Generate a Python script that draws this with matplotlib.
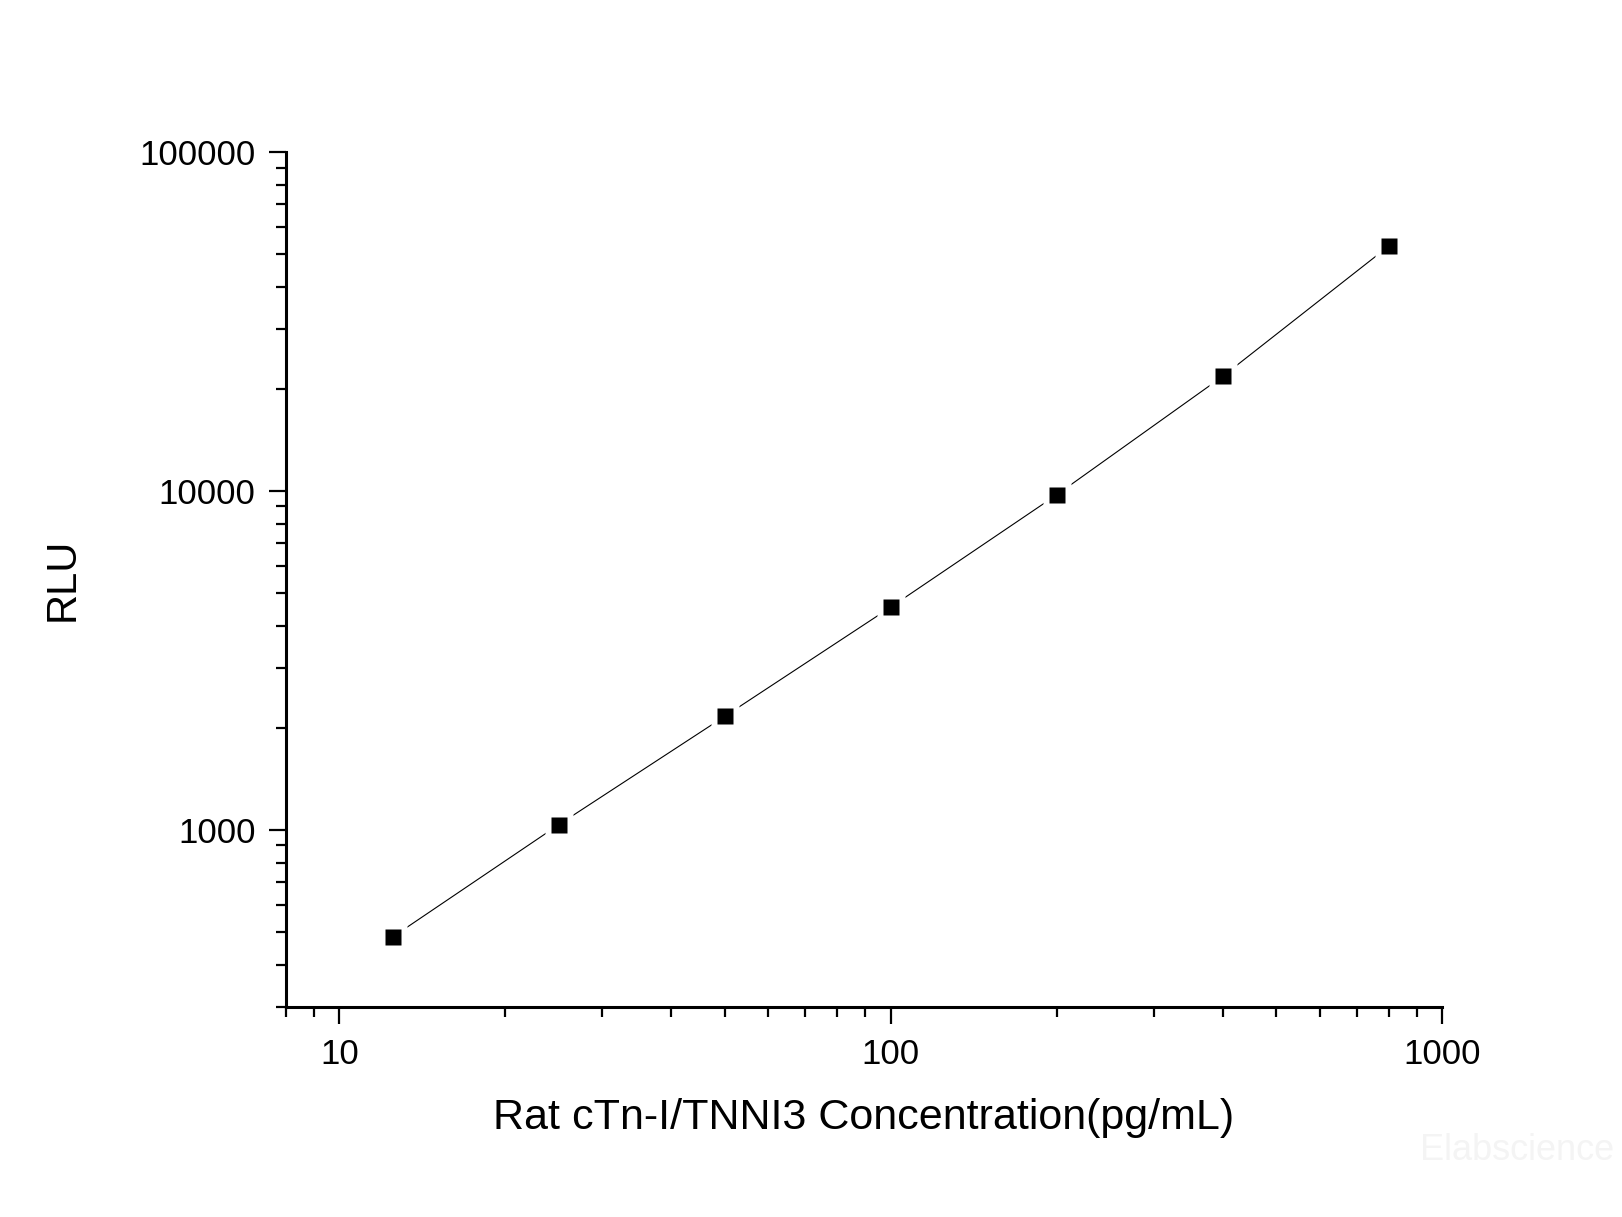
import matplotlib
matplotlib.use("Agg")
import matplotlib.pyplot as plt
from matplotlib.ticker import FixedLocator, FuncFormatter, LogLocator, NullFormatter

plt.rcParams['font.family'] = ['Liberation Sans', 'DejaVu Sans']

# standard curve values
conc = [12.5, 25, 50, 100, 200, 400, 800]
rlu = [483, 1035, 2161, 4537, 9732, 21760, 52700]
x_major = [10, 100, 1000]
y_major = [1000, 10000, 100000]
x_label = "Rat cTn-I/TNNI3 Concentration(pg/mL)"
y_label = "RLU"

fig = plt.figure(figsize=(16.22, 12.17), dpi=100)
ax = fig.add_axes([0.1763, 0.1726, 0.889 - 0.1763, 0.8751 - 0.1726])

ax.plot(conc, rlu, color='black', lw=0.8, zorder=2)
# white halo so the line stops short of each marker
ax.plot(conc, rlu, ls='none', marker='s', ms=19.5, mfc='white', mec='none', zorder=3)
ax.plot(conc, rlu, ls='none', marker='s', ms=12, mfc='black', mec='none', zorder=4)

ax.set_xscale('log')
ax.set_yscale('log')
ax.set_xlim(8, 1000)
ax.set_ylim(300, 100000)

ax.xaxis.set_major_locator(FixedLocator(x_major))
ax.yaxis.set_major_locator(FixedLocator(y_major))
ax.xaxis.set_minor_locator(LogLocator(base=10, subs=range(2, 10), numticks=20))
ax.yaxis.set_minor_locator(LogLocator(base=10, subs=range(2, 10), numticks=20))
fmt = FuncFormatter(lambda v, p: f"{int(round(v))}")
ax.xaxis.set_major_formatter(fmt)
ax.yaxis.set_major_formatter(fmt)
ax.xaxis.set_minor_formatter(NullFormatter())
ax.yaxis.set_minor_formatter(NullFormatter())

for s in ['top', 'right']:
    ax.spines[s].set_visible(False)
for s in ['left', 'bottom']:
    ax.spines[s].set_linewidth(2.2)

ax.tick_params(which='major', direction='out', length=12, width=1.6, labelsize=25, pad=10)
ax.tick_params(which='minor', direction='out', length=7, width=1.6)

ax.set_xlabel(x_label, fontsize=31, labelpad=20)
ax.set_ylabel(y_label, fontsize=30, labelpad=41)

fig.text(0.995, 0.055, "Elabscience", fontsize=26, color='#f4f4f4', ha='right', va='center')

fig.savefig("out.png", dpi=100)
